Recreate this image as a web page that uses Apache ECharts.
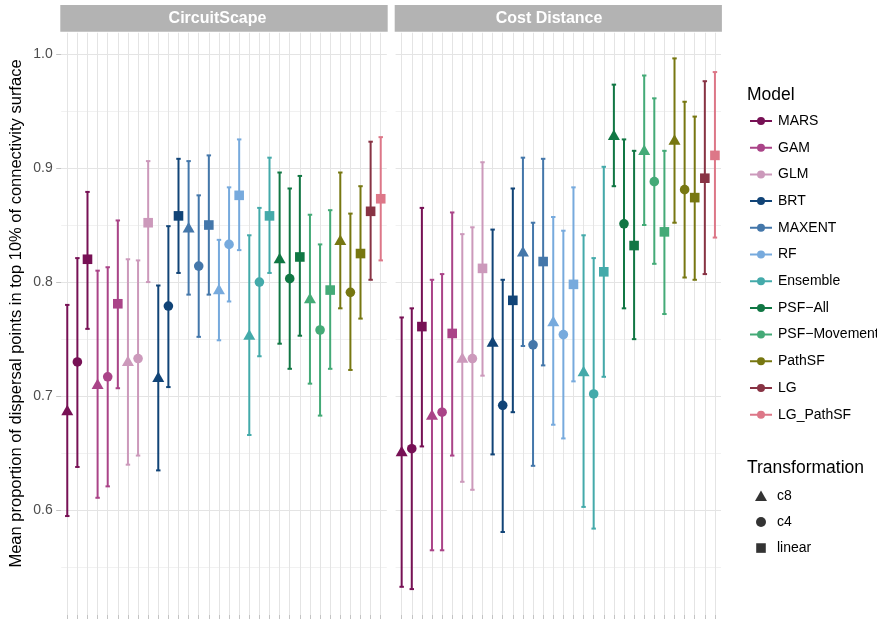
<!DOCTYPE html>
<html>
<head>
<meta charset="utf-8">
<script src="https://cdn.jsdelivr.net/npm/echarts@6/dist/echarts.min.js"></script>
<style>
  html, body { margin: 0; padding: 0; background: #ffffff; }
  #chart { width: 877px; height: 620px; }
</style>
</head>
<body>
<div id="chart"></div>
<script>
// Facets and legend entries
const panels = ['CircuitScape', 'Cost Distance'];
const models = ['MARS', 'GAM', 'GLM', 'BRT', 'MAXENT', 'RF', 'Ensemble',
  'PSF\u2212All', 'PSF\u2212Movement', 'PathSF', 'LG', 'LG_PathSF'];
const modelColors = ['#771155', '#AA4488', '#CC99BB', '#114477', '#4477AA', '#77AADD',
  '#44AAAA', '#117744', '#44AA77', '#777711', '#883344', '#DD7788'];
const transformations = ['c8', 'c4', 'linear'];

// One entry per x position (model / transformation combination)
const xModel = [0, 0, 0, 1, 1, 1, 2, 2, 2, 3, 3, 3, 4, 4, 4, 5, 5, 5,
  6, 6, 6, 7, 7, 7, 8, 8, 8, 9, 9, 9, 10, 11];
const xTransform = ['c8', 'c4', 'linear', 'c8', 'c4', 'linear', 'c8', 'c4', 'linear',
  'c8', 'c4', 'linear', 'c8', 'c4', 'linear', 'c8', 'c4', 'linear',
  'c8', 'c4', 'linear', 'c8', 'c4', 'linear', 'c8', 'c4', 'linear',
  'c8', 'c4', 'linear', 'linear', 'linear'];

// CircuitScape: mean and interval bounds
const circuitMean = [0.688, 0.730, 0.820, 0.711, 0.717, 0.781, 0.731, 0.733, 0.852,
  0.717, 0.779, 0.858, 0.848, 0.814, 0.850, 0.794, 0.833, 0.876,
  0.754, 0.800, 0.858, 0.821, 0.803, 0.822, 0.786, 0.758, 0.793,
  0.837, 0.791, 0.825, 0.862, 0.873];
const circuitLower = [0.595, 0.638, 0.759, 0.611, 0.621, 0.707, 0.640, 0.648, 0.800,
  0.635, 0.708, 0.808, 0.789, 0.752, 0.789, 0.749, 0.783, 0.828,
  0.666, 0.735, 0.808, 0.746, 0.724, 0.753, 0.711, 0.683, 0.724,
  0.777, 0.723, 0.768, 0.802, 0.819];
const circuitUpper = [0.780, 0.821, 0.879, 0.810, 0.813, 0.854, 0.820, 0.819, 0.906,
  0.797, 0.849, 0.908, 0.906, 0.876, 0.911, 0.837, 0.883, 0.925,
  0.841, 0.865, 0.909, 0.896, 0.882, 0.893, 0.859, 0.833, 0.863,
  0.896, 0.860, 0.884, 0.923, 0.927];

// Cost Distance: mean and interval bounds
const costMean = [0.652, 0.654, 0.761, 0.684, 0.686, 0.755, 0.734, 0.733, 0.812,
  0.748, 0.692, 0.784, 0.827, 0.745, 0.818, 0.766, 0.754, 0.798,
  0.722, 0.702, 0.809, 0.929, 0.851, 0.832, 0.916, 0.888, 0.844,
  0.925, 0.881, 0.874, 0.891, 0.911];
const costLower = [0.533, 0.531, 0.656, 0.565, 0.565, 0.648, 0.625, 0.618, 0.718,
  0.649, 0.581, 0.686, 0.744, 0.639, 0.727, 0.675, 0.663, 0.713,
  0.603, 0.584, 0.717, 0.884, 0.777, 0.750, 0.850, 0.816, 0.772,
  0.852, 0.804, 0.802, 0.807, 0.839];
const costUpper = [0.769, 0.777, 0.865, 0.802, 0.807, 0.861, 0.842, 0.848, 0.905,
  0.846, 0.802, 0.882, 0.909, 0.852, 0.908, 0.857, 0.845, 0.883,
  0.841, 0.821, 0.901, 0.973, 0.925, 0.915, 0.981, 0.961, 0.915,
  0.996, 0.958, 0.945, 0.976, 0.984];

// Axis ticks
const yMajorTicks = [0.6, 0.7, 0.8, 0.9, 1.0];
const yMinorTicks = [0.55, 0.65, 0.75, 0.85, 0.95];

const panelData = [
  { mean: circuitMean, lower: circuitLower, upper: circuitUpper },
  { mean: costMean, lower: costLower, upper: costUpper }
];

const FONT = '"Liberation Sans", Arial, Helvetica, sans-serif';
const xPositions = xModel.map((_, i) => i + 1);
const symbolFor = { c8: 'triangle', c4: 'circle', linear: 'rect' };
const sizeFor = { c8: [12, 10.5], c4: 9.6, linear: 9.6 };

const gridTop = 32.7, gridHeight = 582.3;
const grids = [
  { left: 61.2, top: gridTop, width: 325.6, height: gridHeight },
  { left: 395.6, top: gridTop, width: 325.4, height: gridHeight }
];
const yMin = 0.5083, yMax = 1.0185;

const xAxes = grids.map((g, gi) => ({
  type: 'value', gridIndex: gi, min: 0.4, max: xPositions.length + 0.6,
  axisLine: { show: false },
  axisTick: { show: true, customValues: xPositions, length: 4, lineStyle: { color: '#c4c4c4', width: 1 } },
  axisLabel: { show: false },
  splitLine: { show: true, lineStyle: { color: '#e4e4e4', width: 1 } }
}));

const yAxes = [];
grids.forEach((g, gi) => {
  // major lines + labels
  yAxes.push({
    type: 'value', gridIndex: gi, min: yMin, max: yMax,
    axisLine: { show: false },
    axisTick: { show: gi === 0, customValues: yMajorTicks, length: 5, lineStyle: { color: '#c4c4c4' } },
    axisLabel: {
      show: gi === 0, customValues: yMajorTicks, margin: 8.5,
      color: '#4d4d4d', fontSize: 14, fontFamily: FONT,
      formatter: v => v.toFixed(1)
    },
    splitLine: { show: true, lineStyle: { color: '#e4e4e4', width: 1 } }
  });
  // minor lines
  yAxes.push({
    type: 'value', gridIndex: gi, min: yMin, max: yMax,
    axisLine: { show: false },
    axisTick: { show: false, customValues: yMinorTicks },
    axisLabel: { show: false, customValues: yMinorTicks },
    splitLine: { show: true, lineStyle: { color: '#eeeeee', width: 0.8 } }
  });
});

function renderErrorBar(params, api) {
  const x = api.value(0);
  const lo = api.coord([x, api.value(1)]);
  const hi = api.coord([x, api.value(2)]);
  const half = api.size([1, 0])[0] * 0.22;
  const color = api.visual('color');
  const st = { stroke: color, lineWidth: 2 };
  return {
    type: 'group',
    children: [
      { type: 'line', shape: { x1: lo[0], y1: lo[1], x2: hi[0], y2: hi[1] }, style: st },
      { type: 'line', shape: { x1: lo[0] - half, y1: lo[1], x2: lo[0] + half, y2: lo[1] }, style: st },
      { type: 'line', shape: { x1: hi[0] - half, y1: hi[1], x2: hi[0] + half, y2: hi[1] }, style: st }
    ]
  };
}

const series = [];
panelData.forEach((pd, pi) => {
  models.forEach((name, mi) => {
    const idx = xModel.map((m, i) => (m === mi ? i : -1)).filter(i => i >= 0);
    series.push({
      type: 'custom', name, xAxisIndex: pi, yAxisIndex: pi * 2,
      itemStyle: { color: modelColors[mi] },
      renderItem: renderErrorBar,
      encode: { x: 0, y: [1, 2] },
      data: idx.map(i => [xPositions[i], pd.lower[i], pd.upper[i]]),
      z: 2, silent: true
    });
  });
});
panelData.forEach((pd, pi) => {
  models.forEach((name, mi) => {
    const idx = xModel.map((m, i) => (m === mi ? i : -1)).filter(i => i >= 0);
    series.push({
      type: 'scatter', name, xAxisIndex: pi, yAxisIndex: pi * 2,
      itemStyle: { color: modelColors[mi], opacity: 1 },
      data: idx.map(i => ({
        value: [xPositions[i], pd.mean[i]],
        symbol: symbolFor[xTransform[i]],
        symbolSize: sizeFor[xTransform[i]]
      })),
      z: 3, silent: true
    });
  });
});
// shape-only entries for the Transformation legend
transformations.forEach(t => {
  series.push({
    type: 'scatter', name: t, xAxisIndex: 0, yAxisIndex: 0,
    symbol: symbolFor[t], itemStyle: { color: '#000000' }, data: []
  });
});

const keyIcon = 'path://M0,3H22V5H0Z M15,4A4,4,0,1,1,7,4A4,4,0,1,1,15,4Z';

const graphics = [];
const stripTextX = [217.5, 549];
grids.forEach((g, gi) => {
  graphics.push({
    type: 'rect', left: g.left - 0.9, top: 5,
    shape: { width: g.width + 1.8, height: 26.7 },
    style: { fill: '#b3b3b3' }, silent: true
  });
  graphics.push({
    type: 'text', x: stripTextX[gi], y: 18.5,
    style: {
      text: panels[gi], fill: '#ffffff', font: 'bold 16px ' + FONT,
      textAlign: 'center', textVerticalAlign: 'middle'
    }, silent: true
  });
});
graphics.push({
  type: 'text', x: 16, y: 313.5, rotation: Math.PI / 2,
  style: {
    text: 'Mean proportion of dispersal points in top 10% of connectivity surface',
    fill: '#000000', font: '16.5px ' + FONT, textAlign: 'center', textVerticalAlign: 'middle'
  }, silent: true
});
graphics.push({
  type: 'text', x: 747, y: 95,
  style: { text: 'Model', fill: '#000000', font: '17.5px ' + FONT, textVerticalAlign: 'middle' }, silent: true
});
graphics.push({
  type: 'text', x: 747, y: 468,
  style: { text: 'Transformation', fill: '#000000', font: '17.5px ' + FONT, textVerticalAlign: 'middle' }, silent: true
});

// Transformation keys: one legend per shape so each keeps its own box size
const transformKeys = [
  { name: 'c8', w: 12, h: 10.5, center: 495.8 },
  { name: 'c4', w: 10, h: 10, center: 522.2 },
  { name: 'linear', w: 9.6, h: 9.6, center: 548.2 }
];
const transformLegends = transformKeys.map(k => ({
  orient: 'vertical', left: 761 - k.w / 2, top: k.center - 7.15, padding: 0,
  itemWidth: k.w, itemHeight: k.h, selectedMode: false,
  data: [{ name: k.name, icon: symbolFor[k.name] }],
  textStyle: {
    fontSize: 14, color: '#000000', fontFamily: FONT,
    padding: [0, 0, 0, 777 - (761 + k.w / 2) - 5]
  }
}));

const option = {
  backgroundColor: '#ffffff',
  animation: false,
  grid: grids,
  xAxis: xAxes,
  yAxis: yAxes,
  legend: [
    {
      orient: 'vertical', left: 750, top: 114, padding: 0,
      itemWidth: 22, itemHeight: 8, itemGap: 12.7, selectedMode: false,
      data: models.map(n => ({ name: n, icon: keyIcon })),
      textStyle: { fontSize: 14, color: '#000000', fontFamily: FONT, padding: [0, 0, 0, 1] }
    }
  ].concat(transformLegends),
  graphic: graphics,
  series
};

const chart = echarts.init(document.getElementById('chart'), null, { renderer: 'canvas' });
chart.setOption(option);
</script>
</body>
</html>
